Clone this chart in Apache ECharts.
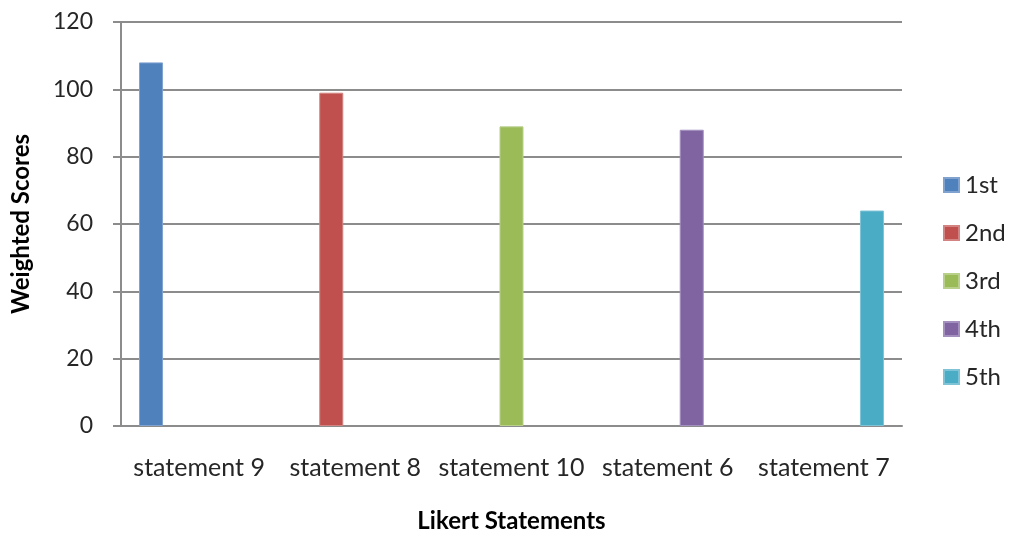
<!DOCTYPE html>
<html>
<head>
<meta charset="utf-8">
<script src="https://cdn.jsdelivr.net/npm/echarts@6/dist/echarts.min.js"></script>
<style>
  html, body { margin: 0; padding: 0; background: #ffffff; }
  #chart { width: 1009px; height: 536px; }
</style>
</head>
<body>
<div id="chart"></div>
<script>
// Likert statements ordered by weighted score
const statements = ['statement 9', 'statement 8', 'statement 10', 'statement 6', 'statement 7'];
const ranks = ['1st', '2nd', '3rd', '4th', '5th'];
const weightedScores = [108, 99, 89, 88, 64];
const yTicks = [0, 20, 40, 60, 80, 100, 120];

const rankColors = ['#4F81BD', '#C0504D', '#9BBB59', '#8064A2', '#4BACC6'];
const rankBorders = ['#7FA2CF', '#D38482', '#B9D08B', '#A390BF', '#7EC4D6'];
const FONT = 'Lato, "Open Sans", sans-serif';

// Each rank is its own series holding a value only at its own statement
const series = ranks.map((rank, i) => ({
  name: rank,
  type: 'bar',
  barGap: '0%',
  barCategoryGap: '23.08%',
  data: statements.map((s, j) => (j === i ? weightedScores[i] : null)),
  itemStyle: { color: rankColors[i], borderColor: rankBorders[i], borderWidth: 1 }
}));

const chart = echarts.init(document.getElementById('chart'), null, { renderer: 'canvas' });
chart.setOption({
  backgroundColor: '#ffffff',
  animation: false,
  grid: { left: 121, right: 107, top: 22, bottom: 110, containLabel: false, outerBoundsMode: 'none' },
  legend: {
    orient: 'vertical',
    left: 943,
    top: 173,
    padding: 0,
    itemWidth: 15,
    itemHeight: 14,
    itemGap: 24,
    icon: 'rect',
    textStyle: { fontFamily: FONT, fontSize: 24, color: '#262626', padding: [0, 0, 0, 1] },
    data: ranks
  },
  xAxis: {
    type: 'category',
    data: statements,
    name: 'Likert Statements',
    nameLocation: 'middle',
    nameGap: 83,
    nameTextStyle: { fontFamily: FONT, fontSize: 24, fontWeight: 'bold', color: '#000000', verticalAlign: 'top' },
    axisLine: { lineStyle: { color: '#8c8c8c', width: 2 } },
    axisTick: { show: false },
    axisLabel: { interval: 0, fontFamily: FONT, fontSize: 25, color: '#262626', margin: 29 }
  },
  yAxis: {
    type: 'value',
    min: yTicks[0],
    max: yTicks[yTicks.length - 1],
    interval: 20,
    name: 'Weighted Scores',
    nameLocation: 'middle',
    nameRotate: 90,
    nameGap: 88,
    nameTextStyle: { fontFamily: FONT, fontSize: 24, fontWeight: 'bold', color: '#000000' },
    axisLine: { show: true, lineStyle: { color: '#8c8c8c', width: 2 } },
    axisTick: { show: true, length: 8, lineStyle: { color: '#8c8c8c', width: 2 } },
    axisLabel: { fontFamily: FONT, fontSize: 23, color: '#262626', margin: 28 },
    splitLine: { lineStyle: { color: '#8c8c8c', width: 2 } }
  },
  series: series
});
</script>
</body>
</html>
